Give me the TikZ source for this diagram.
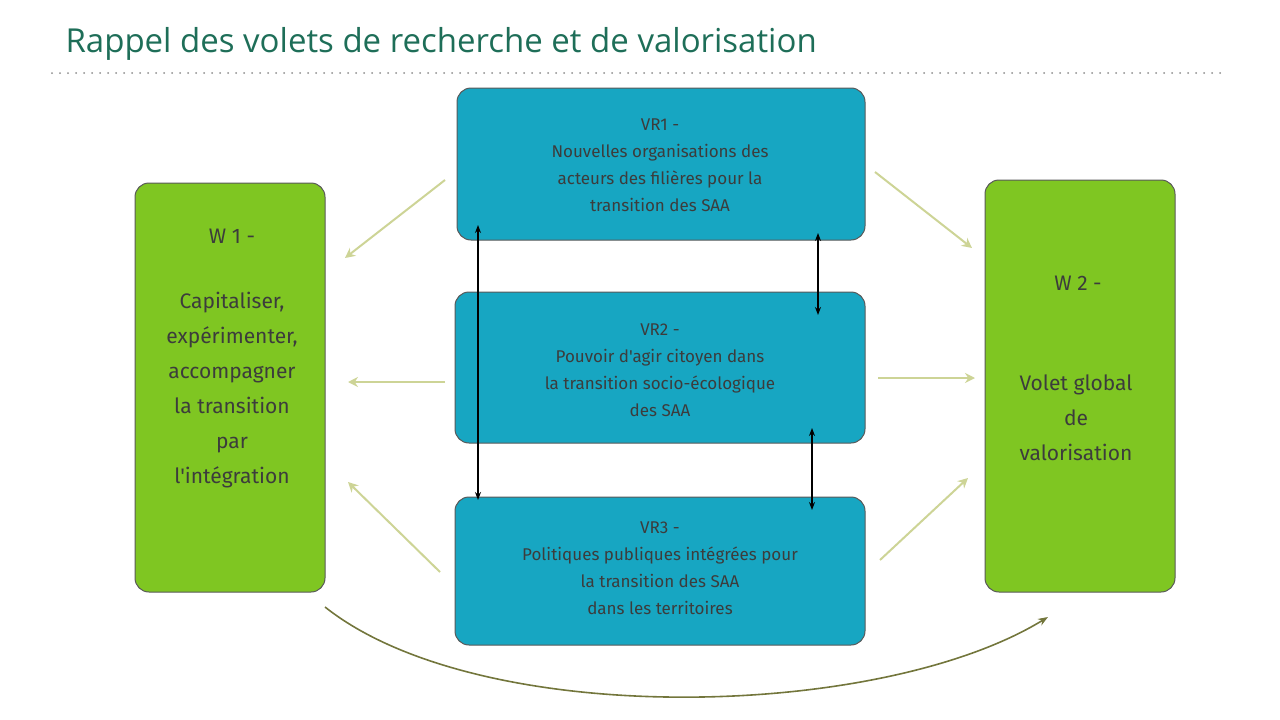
\documentclass[tikz,border=0pt]{standalone}
\usepackage{fontspec}
\setmainfont{Open Sans}
\newfontfamily\hand{Fira Sans}
\usetikzlibrary{arrows.meta}
\definecolor{titlegreen}{RGB}{30,110,88}
\definecolor{vrblue}{RGB}{23,166,194}
\definecolor{vvgreen}{RGB}{127,198,34}
\definecolor{lightarr}{RGB}{205,212,150}
\definecolor{olive}{RGB}{115,118,60}
\definecolor{txt}{RGB}{60,60,60}
\tikzset{
 vr/.style={draw=black!65,line width=1pt,fill=vrblue,rounded corners=14pt},
 vv/.style={draw=black!65,line width=1pt,fill=vvgreen,rounded corners=14pt},
 lbl/.style={font=\hand\fontsize{17}{27}\selectfont,text=txt,align=center},
 vlbl/.style={font=\hand\fontsize{21}{35}\selectfont,text=txt,align=center},
 lg/.style={draw=lightarr,line width=2pt,-{Stealth[length=10pt,width=10pt]}},
 dbl/.style={draw=black,line width=1.2pt,{Stealth[length=8pt]}-{Stealth[length=8pt]}}
}
\begin{document}
\begin{tikzpicture}[x=1pt,y=-1pt]
\useasboundingbox (0,0) rectangle (1280,720);
\node[anchor=west,text=titlegreen,font=\fontsize{33}{40}\selectfont] (title) at (62,44) {Rappel des volets de recherche et de valorisation};
\draw[black!45,line width=2pt,dash pattern=on 0pt off 8pt,line cap=round] (52,73) coordinate (d1) -- (1220,73) coordinate (d2);
\draw[vr] (457,88) rectangle (865,240);
\draw[vr] (455,292) rectangle (865,443);
\draw[vr] (455,497) rectangle (865,645);
\draw[vv] (135,183) rectangle (325,592);
\draw[vv] (985,180) rectangle (1175,592);
\node[lbl] (t1) at (660,165) {VR1 -\\Nouvelles organisations des\\acteurs des filières pour la\\transition des SAA};
\node[lbl] (t2) at (660,370) {VR2 -\\Pouvoir d'agir citoyen dans\\la transition socio-écologique\\des SAA};
\node[lbl] (t3) at (660,568) {VR3 -\\Politiques publiques intégrées pour\\la transition des SAA\\dans les territoires};
\node[vlbl] (w1) at (232,236) {W 1 -};
\node[vlbl] (w1t) at (232,390) {Capitaliser,\\expérimenter,\\accompagner\\la transition\\par\\l'intégration};
\node[vlbl] (w2) at (1078,283) {W 2 -};
\node[vlbl] (w2t) at (1076,418) {Volet global\\de\\valorisation};
\coordinate (a1) at (445,180); \coordinate (b1) at (345,258);
\coordinate (a2) at (445,382); \coordinate (b2) at (348,382);
\coordinate (a3) at (440,572); \coordinate (b3) at (348,482);
\coordinate (c1) at (875,172); \coordinate (e1) at (972,248);
\coordinate (c2) at (878,378); \coordinate (e2) at (975,378);
\coordinate (c3) at (880,560); \coordinate (e3) at (968,478);
\draw[lg] (a1) -- (b1); \draw[lg] (a2) -- (b2); \draw[lg] (a3) -- (b3);
\draw[lg] (c1) -- (e1); \draw[lg] (c2) -- (e2); \draw[lg] (c3) -- (e3);
\coordinate (p1) at (478,225); \coordinate (p2) at (478,500);
\coordinate (q1) at (818,233); \coordinate (q2) at (818,315);
\coordinate (r1) at (812,428); \coordinate (r2) at (812,510);
\draw[dbl] (p1) -- (p2); \draw[dbl] (q1) -- (q2); \draw[dbl] (r1) -- (r2);
\coordinate (s1) at (325,607); \coordinate (s2) at (1048,617);
\draw[olive,line width=1.6pt,-{Stealth[length=10pt]}] (s1) .. controls (480,730) and (880,720) .. (s2);
\end{tikzpicture}
\end{document}
